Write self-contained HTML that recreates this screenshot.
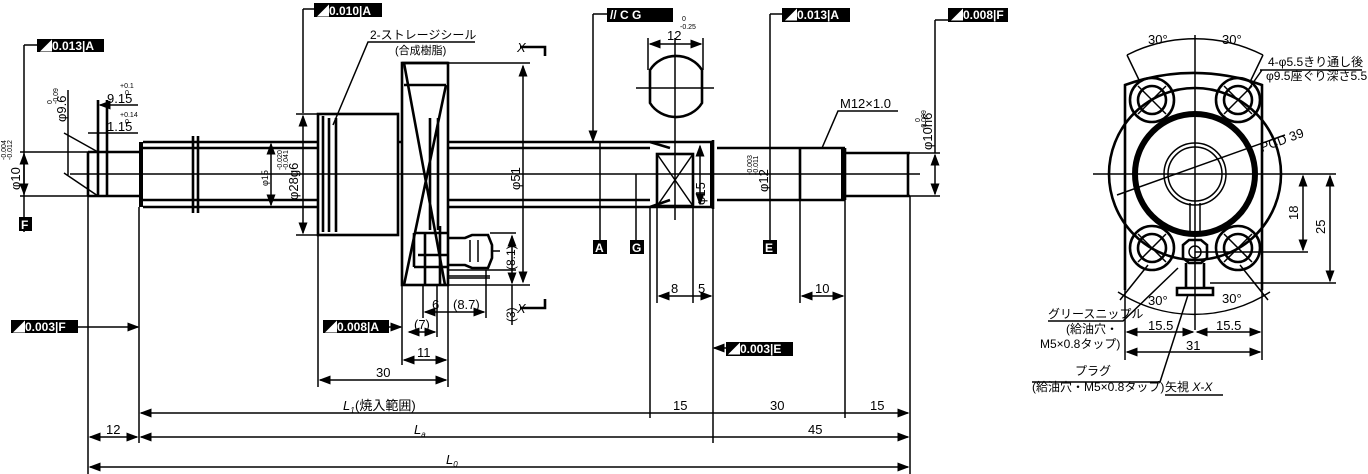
<!DOCTYPE html>
<html><head><meta charset="utf-8"><style>
html,body{margin:0;padding:0;background:#fff}
svg{display:block}
text{font-family:"Liberation Sans","Noto Sans CJK JP",sans-serif;fill:#000}
.o{stroke:#000;stroke-width:2.6;fill:none}
.t{stroke:#000;stroke-width:1.5;fill:none}
.bx{fill:#000}
.bt{fill:#fff;font-size:12px;font-weight:bold}
</style></head><body>
<svg width="1368" height="474" viewBox="0 0 1368 474" xmlns="http://www.w3.org/2000/svg">
<defs>
<marker id="a" markerWidth="8" markerHeight="6" refX="7" refY="3" orient="auto-start-reverse"><path d="M0,0L8,3L0,6z" fill="#000"/></marker>
</defs>

<line class="t" x1="70" y1="174" x2="920" y2="174"/>

<path class="o" d="M88,152H139M88,196H139M88,152V196M98,100V196M107,100V196"/>
<path class="t" d="M64,133L98,152M64,173L98,196"/>
<line class="o" x1="141" y1="142" x2="141" y2="207" style="stroke-width:4"/>
<path class="o" d="M143,142H318M143,148H318M143,200H318M143,207H318"/>
<path class="o" d="M193,136V213M198,136V213"/>
<path class="o" d="M398,142H402M448,142H650L670,148M448,148H650M448,200H650M448,207H650L670,200"/>
<rect class="o" x="318" y="114" width="80" height="121"/>
<path class="o" d="M323,116V232M329,118V232M336,118V232"/>
<path class="t" d="M296,114H318M296,235H318"/>
<line class="t" x1="303" y1="116" x2="303" y2="233" marker-start="url(#a)" marker-end="url(#a)"/>
<line class="t" x1="271" y1="144" x2="271" y2="205" marker-start="url(#a)" marker-end="url(#a)"/>
<text transform="translate(268,186) rotate(-90)" font-size="9">φ15</text>
<text transform="translate(298,200) rotate(-90)" font-size="13">φ28g6</text>
<text transform="translate(282,170) rotate(-90)" font-size="7">-0.020</text>
<text transform="translate(288,170) rotate(-90)" font-size="7">-0.041</text>
<rect class="o" x="402" y="63" width="46" height="222"/>
<path class="o" d="M402,63H448M404,85H446M404,63L445,285M446,85L404,285M430,118V230M438,118V230"/>
<path class="t" d="M448,63H530M448,285H530"/>
<line class="t" x1="523" y1="66" x2="523" y2="282" marker-start="url(#a)" marker-end="url(#a)"/>
<text transform="translate(520,190) rotate(-90)" font-size="13">φ51</text>
<path class="o" d="M414,233H448M414,233V267M414,267H448M425,233V285M440,226V285M418,255H448"/>
<path class="o" d="M448,238H465L472,235H488L492,245V258L488,268H472L465,265H448"/>
<path class="t" d="M470,240V262M478,240V262M492,251H500M448,270H490M448,278H490"/>
<path class="t" d="M448,276H490M490,233H516M490,270H516"/>
<line class="t" x1="512" y1="236" x2="512" y2="283" marker-start="url(#a)" marker-end="url(#a)"/>
<text transform="translate(515,270) rotate(-90)" font-size="12">(8.1)</text>
<text transform="translate(515,322) rotate(-90)" font-size="12">(3)</text>
<path class="t" d="M512,285V325"/>
<path class="o" d="M520,47H545V56M520,308H545V299"/>
<text x="517" y="52" font-size="13" font-style="italic">X</text>
<text x="517" y="313" font-size="13" font-style="italic">X</text>
<path class="t" d="M333,125L368,42H475"/>
<text x="370" y="39" font-size="12">2-ストレージシール</text>
<text x="395" y="54" font-size="11">(合成樹脂)</text>

<rect class="o" x="657" y="154" width="36" height="52"/>
<path class="t" d="M657,154L693,206M693,154L657,206"/>
<path class="o" d="M650,142H713M650,207H713M713,140V209" />
<line class="o" x1="712" y1="142" x2="712" y2="207" style="stroke-width:4"/>
<path class="o" d="M717,148H800M717,200H800M800,148V200M800,148H845M800,200H845M845,148V200M845,153H910M845,196H910M908,153V196"/>
<line class="o" x1="843" y1="148" x2="843" y2="200" style="stroke-width:4"/>
<line class="t" x1="700" y1="146" x2="700" y2="204" marker-start="url(#a)" marker-end="url(#a)"/>
<text transform="translate(705,205) rotate(-90)" font-size="13">φ15</text>
<path class="o" d="M650,70A30,28 0 0 1 702,70V103A30,28 0 0 1 650,103Z"/>
<path class="t" d="M636,88H714M675,38V220"/>
<path class="t" d="M648,38V70M703,38V70"/>
<line class="t" x1="650" y1="44" x2="701" y2="44" marker-start="url(#a)" marker-end="url(#a)"/>
<text x="667" y="40" font-size="13">12</text>
<text x="682" y="21" font-size="7">0</text><text x="680" y="29" font-size="7">-0.25</text>
<path class="t" d="M822,148L838,111H898"/>
<text x="840" y="108" font-size="13">M12×1.0</text>
<text transform="translate(932,150) rotate(-90)" font-size="13">φ10h6</text>
<text transform="translate(920,122) rotate(-90)" font-size="7">0</text>
<text transform="translate(926,130) rotate(-90)" font-size="7">-0.009</text>
<line class="t" x1="935" y1="155" x2="935" y2="194" marker-start="url(#a)" marker-end="url(#a)"/>
<path class="t" d="M910,153H940M910,196H940M935,20V153M935,20H948"/>
<text transform="translate(768,192) rotate(-90)" font-size="13">φ12</text>
<text transform="translate(752,175) rotate(-90)" font-size="7">-0.003</text>
<text transform="translate(758,175) rotate(-90)" font-size="7">-0.011</text>

<path class="t" d="M24,45H37M24,45V232M20,152H88M20,196H88"/>
<line class="t" x1="24" y1="154" x2="24" y2="194" marker-start="url(#a)" marker-end="url(#a)"/>
<text transform="translate(20,190) rotate(-90)" font-size="13">φ10</text>
<text transform="translate(6,160) rotate(-90)" font-size="7">-0.004</text>
<text transform="translate(12,160) rotate(-90)" font-size="7">-0.012</text>
<line class="t" x1="68" y1="90" x2="68" y2="175"/>
<text transform="translate(66,122) rotate(-90)" font-size="13">φ9.6</text>
<text transform="translate(52,104) rotate(-90)" font-size="7">0</text>
<text transform="translate(58,104) rotate(-90)" font-size="7">-0.09</text>
<line class="t" x1="100" y1="105" x2="138" y2="105" marker-start="url(#a)"/>
<text x="107" y="103" font-size="13">9.15</text>
<text x="120" y="88" font-size="7">+0.1</text><text x="125" y="95" font-size="7">0</text>
<line class="t" x1="88" y1="133" x2="138" y2="133"/>
<text x="107" y="131" font-size="13">1.15</text>
<text x="120" y="117" font-size="7">+0.14</text><text x="125" y="124" font-size="7">0</text>

<g>
<rect class="bx" x="37" y="39" width="67" height="13"/><text class="bt" x="40" y="50">◢0.013|A</text>
<rect class="bx" x="314" y="3" width="68" height="14"/><text class="bt" x="317" y="15">◢0.010|A</text>
<path class="t" d="M303,9H314M303,9V113"/>
<rect class="bx" x="607" y="8" width="66" height="14"/><text class="bt" x="610" y="19">//  C  G</text>
<path class="t" d="M593,14H607"/><line class="t" x1="593" y1="14" x2="593" y2="141" marker-end="url(#a)"/>
<rect class="bx" x="782" y="8" width="68" height="14"/><text class="bt" x="785" y="19">◢0.013|A</text>
<path class="t" d="M770,14H782M770,14V240"/>
<rect class="bx" x="948" y="8" width="60" height="14"/><text class="bt" x="951" y="19">◢0.008|F</text>
<rect class="bx" x="11" y="320" width="67" height="13"/><text class="bt" x="13" y="331">◢0.003|F</text>
<line class="t" x1="78" y1="327" x2="138" y2="327" marker-end="url(#a)"/>
<rect class="bx" x="323" y="320" width="66" height="13"/><text class="bt" x="325" y="331">◢0.008|A</text>
<line class="t" x1="389" y1="327" x2="401" y2="327" marker-end="url(#a)"/>
<rect class="bx" x="726" y="342" width="67" height="14"/><text class="bt" x="728" y="353">◢0.003|E</text>
<line class="t" x1="726" y1="348" x2="714" y2="348" marker-end="url(#a)"/>
<rect class="bx" x="19" y="217" width="13" height="14"/><text class="bt" x="21" y="229">F</text>
<rect class="bx" x="593" y="240" width="14" height="14"/><text class="bt" x="595" y="252">A</text>
<rect class="bx" x="630" y="240" width="14" height="14"/><text class="bt" x="632" y="252">G</text>
<rect class="bx" x="763" y="240" width="14" height="14"/><text class="bt" x="765" y="252">E</text>
<path class="t" d="M600,142V240M636,174V240"/>
</g>

<path class="t" d="M88,196V474M139,207V443M318,235V387M448,285V387M402,285V365M437,285V337M423,285V318M486,270V318M650,207V418M713,207V443M800,200V303M845,200V418M910,196V474M657,206V303M693,206V303"/>
<g class="t">
<line x1="320" y1="380" x2="446" y2="380" marker-start="url(#a)" marker-end="url(#a)"/>
<line x1="404" y1="360" x2="446" y2="360" marker-start="url(#a)" marker-end="url(#a)"/>
<line x1="409" y1="332" x2="435" y2="332" marker-start="url(#a)" marker-end="url(#a)"/>
<line x1="425" y1="312" x2="484" y2="312" marker-start="url(#a)" marker-end="url(#a)"/>
<line x1="659" y1="296" x2="711" y2="296" marker-start="url(#a)" marker-end="url(#a)"/>
<line x1="802" y1="296" x2="843" y2="296" marker-start="url(#a)" marker-end="url(#a)"/>
<line x1="141" y1="413" x2="908" y2="413" marker-start="url(#a)" marker-end="url(#a)"/>
<line x1="90" y1="437" x2="137" y2="437" marker-start="url(#a)" marker-end="url(#a)"/>
<line x1="141" y1="437" x2="908" y2="437" marker-start="url(#a)" marker-end="url(#a)"/>
<line x1="90" y1="467" x2="908" y2="467" marker-start="url(#a)" marker-end="url(#a)"/>
</g>
<g font-size="13">
<text x="376" y="377">30</text><text x="417" y="357">11</text><text x="414" y="329">(7)</text>
<text x="432" y="309">6</text><text x="453" y="309">(8.7)</text>
<text x="671" y="293">8</text><text x="698" y="293">5</text><text x="815" y="293">10</text>
<text x="343" y="410" font-style="italic">L<tspan font-size="8" dy="3">1</tspan></text><text x="355" y="410">(焼入範囲)</text>
<text x="673" y="410">15</text><text x="770" y="410">30</text><text x="870" y="410">15</text>
<text x="106" y="434">12</text><text x="414" y="434" font-style="italic">L<tspan font-size="8" dy="3">a</tspan></text>
<text x="808" y="434">45</text><text x="446" y="464" font-style="italic">L<tspan font-size="8" dy="3">0</tspan></text>
</g>

<g>
<path class="t" d="M1093,174H1336M1195,35V330"/>
<path class="o" d="M1125,290V85A200,200 0 0 1 1262,85V290"/>
<circle class="o" cx="1195" cy="174" r="86"/>
<path class="t" d="M1118,292A140,140 0 0 0 1270,292"/>
<path class="t" d="M1127,55A150,150 0 0 1 1263,55M1127,55L1140,82M1263,55L1250,82"/>
<circle cx="1195" cy="174" r="60" fill="none" stroke="#000" stroke-width="6"/>
<circle class="t" cx="1195" cy="174" r="31"/><circle class="t" cx="1195" cy="174" r="27"/>
<path class="t" d="M1190,203V232M1200,203V232"/>
<g class="o">
<circle cx="1152" cy="100" r="22"/><circle cx="1152" cy="100" r="14"/>
<circle cx="1238" cy="100" r="22"/><circle cx="1238" cy="100" r="14"/>
<circle cx="1152" cy="248" r="22"/><circle cx="1152" cy="248" r="14"/>
<circle cx="1238" cy="248" r="22"/><circle cx="1238" cy="248" r="14"/>
</g>
<path class="t" d="M1138,86L1166,114M1166,86L1138,114M1224,86L1252,114M1252,86L1224,114M1138,234L1166,262M1166,234L1138,262M1224,234L1252,262M1252,234L1224,262"/>
<path class="o" d="M1183,245L1189,240H1201L1207,245V258L1201,263H1189L1183,258Z"/>
<circle class="t" cx="1195" cy="252" r="6"/>
<path class="o" d="M1186,263V288M1204,263V288M1177,288H1213V295H1177Z"/>
<path class="t" d="M1117,195L1285,135"/>
<text transform="translate(1262,152) rotate(-20)" font-size="13">PCD 39</text>
<path class="t" d="M1120,300L1148,265M1268,300L1240,265"/>
<text x="1148" y="44" font-size="13">30°</text><text x="1222" y="44" font-size="13">30°</text>
<text x="1148" y="305" font-size="13">30°</text><text x="1222" y="303" font-size="13">30°</text>
<text x="1268" y="66" font-size="12">4-φ5.5きり通し後</text>
<text x="1266" y="80" font-size="12">φ9.5座ぐり深さ5.5</text>
<path class="t" d="M1260,70H1362M1248,90L1262,70"/>
<path class="t" d="M1195,252H1308M1210,283H1336"/>
<line class="t" x1="1303" y1="176" x2="1303" y2="250" marker-start="url(#a)" marker-end="url(#a)"/>
<line class="t" x1="1330" y1="176" x2="1330" y2="281" marker-start="url(#a)" marker-end="url(#a)"/>
<text transform="translate(1298,220) rotate(-90)" font-size="13">18</text>
<text transform="translate(1325,234) rotate(-90)" font-size="13">25</text>
<path class="t" d="M1125,290V360M1262,290V360"/>
<line class="t" x1="1127" y1="332" x2="1193" y2="332" marker-start="url(#a)" marker-end="url(#a)"/>
<line class="t" x1="1197" y1="332" x2="1260" y2="332" marker-start="url(#a)" marker-end="url(#a)"/>
<line class="t" x1="1127" y1="352" x2="1260" y2="352" marker-start="url(#a)" marker-end="url(#a)"/>
<text x="1148" y="330" font-size="13">15.5</text><text x="1216" y="330" font-size="13">15.5</text><text x="1186" y="350" font-size="13">31</text>
<text x="1048" y="318" font-size="12">グリースニップル</text>
<path class="t" d="M1048,321H1123L1178,268"/>
<text x="1066" y="333" font-size="12">(給油穴・</text>
<text x="1040" y="348" font-size="12">M5×0.8タップ)</text>
<text x="1075" y="375" font-size="12">プラグ</text>
<path class="t" d="M1032,382H1160L1188,295"/>
<text x="1032" y="391" font-size="12">(給油穴・M5×0.8タップ)</text>
<text x="1165" y="391" font-size="12">矢視 <tspan font-style="italic">X-X</tspan></text>
<path class="t" d="M1165,395H1223"/>
</g>
</svg>
</body></html>
